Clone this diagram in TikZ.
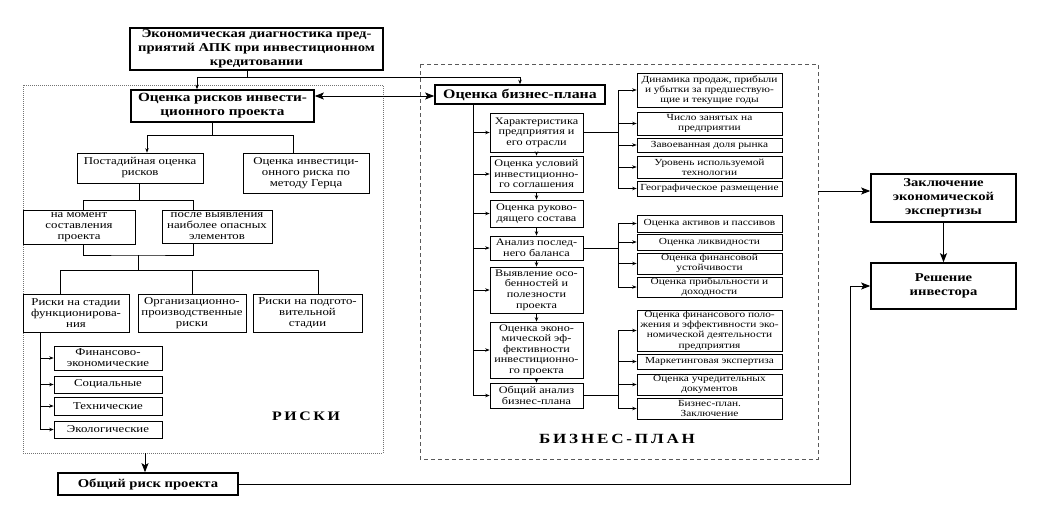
\documentclass[tikz,border=0pt]{standalone}
\usepackage{fontspec}
\setmainfont{Liberation Serif}[FakeStretch=1.22]
\usetikzlibrary{arrows.meta,calc}
\newcommand\fsA{\fontsize{10.5}{11}\selectfont}
\newcommand\fsB{\fontsize{10}{10.6}\selectfont}
\newcommand\fsC{\fontsize{9.3}{10.2}\selectfont}
\newcommand\fsH{\bfseries\fontsize{12}{14}\selectfont}
\newcommand\mybox[7]{%
  \pgfmathsetmacro\bw{#4-#2}\pgfmathsetmacro\bh{#5-#3}%
  \node[#6, minimum width=\bw pt, minimum height=\bh pt] (#1) at ({(#2+#4)/2},{(#3+#5)/2}) {#7};}
\tikzset{
  box/.style={draw, line width=0.7pt, inner sep=0pt, align=center, font=\fsA},
  bbox/.style={draw, line width=0.7pt, inner sep=0pt, align=center, font=\fsB},
  rbox/.style={draw, line width=0.7pt, inner sep=0pt, align=center, font=\fsC},
  hbox/.style={draw, line width=1.6pt, inner sep=0pt, align=center, font=\fsH},
  ln/.style={line width=0.7pt},
  arr/.style={ln, -{Stealth[length=4.5pt,width=3.5pt]}},
  bigarr/.style={line width=0.9pt, -{Stealth[length=9pt,width=7pt,inset=2pt]}},
}
\begin{document}
\begin{tikzpicture}[x=1pt,y=-1pt]
\useasboundingbox (0,0) rectangle (1037,509);
% regions
\draw[black!55, line width=0.6pt, dash pattern=on 1pt off 1pt] (23,85) rectangle (383,453);
\draw[black!65, line width=0.6pt, dash pattern=on 4pt off 3pt] (420,64) rectangle (818,459);
% left part
\mybox{T}{130}{28}{383}{70}{hbox}{Экономическая диагностика пред-\\приятий АПК при инвестиционном\\кредитовании}
\mybox{R0}{131}{90}{314}{122}{hbox,font={\bfseries\fontsize{12.5}{14}\selectfont}}{Оценка рисков инвести-\\ционного проекта}
\mybox{PO}{77}{153}{203}{183}{box}{Постадийная оценка\\рисков}
\mybox{GZ}{243}{153}{369}{193}{box}{Оценка инвестици-\\онного риска по\\методу Герца}
\mybox{NM}{23}{210}{135}{244}{box}{на момент\\составления\\проекта}
\mybox{PV}{162}{210}{272}{243}{box}{после выявления\\наиболее опасных\\элементов}
\mybox{RF}{23}{294}{129}{332}{box}{Риски на стадии\\функционирова-\\ния}
\mybox{OP}{138}{294}{246}{332}{box}{Организационно-\\производственные\\риски}
\mybox{RP}{253}{294}{362}{332}{box}{Риски на подгото-\\вительной\\стадии}
\mybox{F1}{54}{346}{162}{370}{box}{Финансово-\\экономические}
\mybox{F2}{54}{376}{162}{393}{box}{Социальные}
\mybox{F3}{54}{397}{162}{415}{box}{Технические}
\mybox{F4}{54}{421}{162}{438}{box}{Экологические}
\mybox{OR}{58}{473}{238}{495}{hbox}{Общий риск проекта}
\node[font={\bfseries\fontsize{13}{13}\selectfont\addfontfeature{LetterSpace=20}}] (tR) at (306,416) {РИСКИ};
% business plan
\mybox{BP}{435}{85}{605}{104}{hbox,font={\bfseries\fontsize{13}{14}\selectfont}}{Оценка бизнес-плана}
\mybox{L1}{490}{113}{583}{152}{bbox}{Характеристика\\предприятия и\\его отрасли}
\mybox{L2}{490}{156}{583}{192}{bbox}{Оценка условий\\инвестиционно-\\го соглашения}
\mybox{L3}{490}{200}{583}{227}{bbox}{Оценка руково-\\дящего состава}
\mybox{L4}{490}{236}{583}{260}{bbox}{Анализ послед-\\него баланса}
\mybox{L5}{490}{267}{583}{313}{bbox}{Выявление осо-\\бенностей и\\полезности\\проекта}
\mybox{L6}{490}{322}{583}{378}{bbox}{Оценка эконо-\\мической эф-\\фективности\\инвестиционно-\\го проекта}
\mybox{L7}{490}{383}{583}{408}{bbox}{Общий анализ\\бизнес-плана}
\mybox{R1}{637}{73}{782}{107}{rbox}{Динамика продаж, прибыли\\и убытки за предшествую-\\щие и текущие годы}
\mybox{R2}{637}{112}{782}{135}{rbox}{Число занятых на\\предприятии}
\mybox{R3}{637}{138}{782}{152}{rbox}{Завоеванная доля рынка}
\mybox{R4}{637}{156}{782}{178}{rbox}{Уровень используемой\\технологии}
\mybox{R5}{637}{181}{782}{196}{rbox}{Географическое размещение}
\mybox{R6}{637}{215}{782}{232}{rbox}{Оценка активов и пассивов}
\mybox{R7}{637}{234}{782}{250}{rbox}{Оценка ликвидности}
\mybox{R8}{637}{253}{782}{274}{rbox}{Оценка финансовой\\устойчивости}
\mybox{R9}{637}{277}{782}{297}{rbox}{Оценка прибыльности и\\доходности}
\mybox{R10}{637}{310}{782}{351}{rbox}{Оценка финансового поло-\\жения и эффективности эко-\\номической деятельности\\предприятия}
\mybox{R11}{637}{354}{782}{369}{rbox}{Маркетинговая экспертиза}
\mybox{R12}{637}{374}{782}{395}{rbox}{Оценка учредительных\\документов}
\mybox{R13}{637}{398}{782}{419}{rbox}{Бизнес-план.\\Заключение}
\node[font={\bfseries\fontsize{14}{14}\selectfont\addfontfeature{LetterSpace=20}}] (tB) at (617,439) {БИЗНЕС-ПЛАН};
% right
\mybox{Z}{871}{174}{1016}{222}{hbox}{Заключение\\экономической\\экспертизы}
\mybox{D}{871}{263}{1016}{309}{hbox}{Решение\\инвестора}
% connectors top
\coordinate (j0) at (247,77);
\coordinate (a197) at (197,0);
\coordinate (y96) at (0,96);
\draw[ln] (T.south -| j0) -- (j0);
\draw[arr] (j0) -| (BP.north);
\draw[arr] (j0) -| (R0.north -| a197);
\draw[line width=0.9pt, {Stealth[length=9pt,width=7pt,inset=2pt]}-{Stealth[length=9pt,width=7pt,inset=2pt]}] (R0.east |- y96) -- (BP.west |- y96);
% risks tree
\coordinate (b1) at (212,135);
\draw[ln] (R0.south -| b1) -- (b1);
\draw[arr] (b1) -| ($(PO.north)+(7,0)$);
\draw[ln] (b1) -| ($(GZ.north)+(-13,0)$);
\coordinate (b2) at (139,200);
\draw[ln] (PO.south -| b2) -- (b2);
\draw[ln] ($(NM.north)+(4,0)$) |- (b2);
\draw[ln] ($(PV.north)+(-24,0)$) |- (b2);
\coordinate (b3) at (138,255);
\coordinate (b4) at (138,270);
\draw[ln] ($(NM.south)+(4,0)$) |- (b3) -| ($(PV.south)+(-24,0)$);
\draw[ln] (b3) -- (b4);
\draw[ln] ($(RF.north)+(-16,0)$) |- (b4);
\draw[ln] ($(RP.north)+(10.5,0)$) |- (b4);
\draw[ln] (OP.north) -- (OP.north |- b4);
\coordinate (v40) at (40,0);
\draw[ln] (RF.south -| v40) -- (v40 |- F4.west);
\foreach \f in {F1,F2,F3,F4} \draw[arr] (v40 |- \f.west) -- (\f.west);
\coordinate (lb) at (145,453);
\draw[bigarr] (lb) -- (lb |- OR.north);
\coordinate (k850) at (850,0);
\draw[bigarr] (OR.east) -| (k850 |- D.west) -- (D.west);
% business tree
\coordinate (v473) at (473,0);
\draw[ln] (BP.south -| v473) -- (v473 |- L7.west);
\foreach \l in {L1,L2,L3,L4,L5,L6,L7} \draw[arr] (v473 |- \l.west) -- (\l.west);
\draw[arr] (L1.south) -- (L2.north);
\draw[arr] (L2.south) -- (L3.north);
\draw[arr] (L3.south) -- (L4.north);
\draw[arr] (L4.south) -- (L5.north);
\draw[arr] (L5.south) -- (L6.north);
\draw[arr] (L6.south) -- (L7.north);
\coordinate (v618) at (618,0);
\draw[ln] (L1.east) -- (L1.east -| v618);
\draw[ln] (v618 |- R1.west) -- (v618 |- R5.west);
\foreach \r in {R1,R2,R3,R4,R5} \draw[arr] (v618 |- \r.west) -- (\r.west);
\draw[ln] (L4.east) -- (L4.east -| v618);
\draw[ln] (v618 |- R6.west) -- (v618 |- R9.west);
\foreach \r in {R6,R7,R8,R9} \draw[arr] (v618 |- \r.west) -- (\r.west);
\draw[ln] (L7.east) -- (L7.east -| v618);
\draw[ln] (v618 |- R10.west) -- (v618 |- R13.west);
\foreach \r in {R10,R11,R12,R13} \draw[arr] (v618 |- \r.west) -- (\r.west);
% to conclusion
\coordinate (zr) at (818,191);
\draw[bigarr] (zr) -- (zr -| Z.west);
\draw[bigarr] (Z.south) -- (D.north);
\end{tikzpicture}
\end{document}
